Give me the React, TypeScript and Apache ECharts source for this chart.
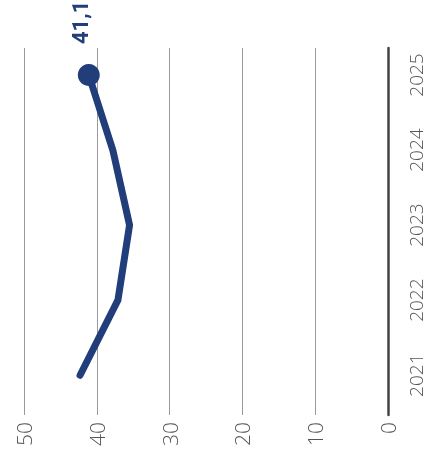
import React, { useEffect, useRef } from "react";
import * as echarts from "echarts";

const years = [2021, 2022, 2023, 2024, 2025];
const values = [42.3, 37.1, 35.5, 37.8, 41.1];
const valueTicks = [0, 10, 20, 30, 40, 50];

export default function App() {
  const ref = useRef<HTMLDivElement>(null);
  useEffect(() => {
    if (!ref.current) return;
    const chart = echarts.init(ref.current, null, { renderer: "svg" });
    const last = values.length - 1;
    chart.setOption({
      animation: false,
      grid: { left: 24, right: 42, top: 48, bottom: 46, containLabel: false },
      xAxis: {
        type: "value",
        inverse: true,
        min: 0,
        max: 50,
        interval: 10,
        position: "bottom",
        axisLine: { show: false },
        axisTick: { show: false },
        splitLine: { show: true, lineStyle: { color: "#9a9a9a", width: 1 } },
        axisLabel: {
          rotate: 90,
          margin: 7,
          fontSize: 21,
          fontFamily: "Open Sans",
          fontWeight: 300,
          color: "#555",
          customValues: valueTicks,
        },
      },
      yAxis: {
        type: "value",
        min: 2020.47,
        max: 2025.36,
        position: "right",
        axisLine: { show: true, onZero: false, lineStyle: { color: "#444", width: 2.5 } },
        axisTick: { show: false },
        splitLine: { show: false },
        axisLabel: {
          rotate: 90,
          margin: 18,
          fontSize: 19,
          fontFamily: "Open Sans",
          fontWeight: 300,
          color: "#555",
          customValues: years,
          formatter: (v: number) => String(v),
        },
      },
      series: [
        {
          type: "line",
          data: years.map((y, i) => ({
            value: [values[i], y],
            symbol: i === last ? "circle" : "none",
            symbolSize: i === last ? 22 : 0,
            label:
              i === last
                ? {
                    show: true,
                    position: "top",
                    rotate: 90,
                    align: "left",
                    verticalAlign: "middle",
                    distance: 20,
                    offset: [0, -8],
                    fontSize: 22,
                    fontWeight: "bold",
                    fontFamily: "Roboto",
                    color: "#213d7a",
                    formatter: () => values[last].toFixed(1).replace(".", ","),
                  }
                : { show: false },
          })),
          lineStyle: { color: "#213d7a", width: 7, cap: "round", join: "round" },
          itemStyle: { color: "#213d7a" },
          showSymbol: true,
        },
      ],
    });
    return () => chart.dispose();
  }, []);
  return (
    <div
      ref={ref}
      style={{ position: "fixed", left: 0, top: 0, width: 430, height: 461 }}
    />
  );
}
